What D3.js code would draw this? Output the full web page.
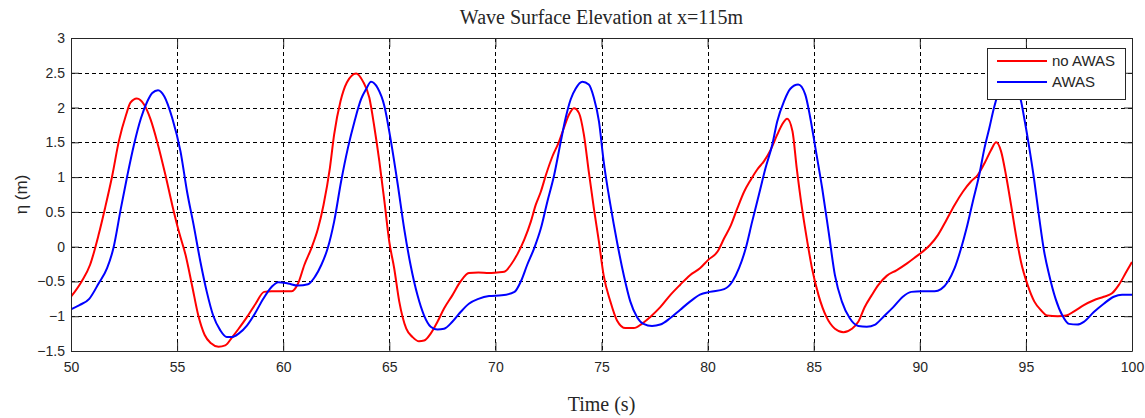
<!DOCTYPE html>
<html>
  <head>
    <meta charset="UTF-8">
    <title>Wave Surface Elevation</title>
    <style>
      body { margin: 0; background: #fff; }
      text { fill: #262626; }
    </style>
  </head>
  <body>
    <script src="https://d3js.org/d3.v7.min.js"></script>
    <svg width="1145" height="418" id="wave"></svg>
    <script>

      // no AWAS (red)
      var tRed = [50.0,50.5,50.9,51.3,51.6,51.95,52.25,52.6,52.8,53.1,53.45,53.75,54.06,54.45,54.77,55.08,55.4,55.7,56.0,56.3,56.6,56.95,57.27,57.6,57.9,58.3,58.7,59.1,59.45,60.0,60.4,60.7,61.0,61.33,61.64,61.9,62.2,62.4,62.7,63.0,63.44,63.75,64.06,64.3,64.53,64.77,65.0,65.23,65.47,65.8,66.1,66.4,66.64,66.95,67.27,67.58,67.97,68.36,68.75,69.2,69.7,70.08,70.42,70.73,71.05,71.36,71.67,71.9,72.14,72.38,72.69,73.0,73.23,73.47,73.7,73.94,74.17,74.4,74.64,74.88,75.1,75.42,75.73,76.13,76.52,76.9,77.3,77.77,78.23,78.7,79.17,79.64,80.03,80.47,80.78,81.1,81.4,81.72,82.03,82.34,82.66,82.97,83.28,83.5,83.75,84.0,84.2,84.45,84.7,84.92,85.23,85.6,86.0,86.4,86.8,87.1,87.4,87.73,88.05,88.44,88.9,89.4,89.84,90.1,90.47,90.86,91.25,91.64,92.03,92.42,92.73,93.05,93.36,93.6,93.83,94.06,94.3,94.53,94.77,95.08,95.4,95.7,96.0,96.5,96.9,97.27,97.73,98.2,98.67,99.06,99.38,99.7,100.0];
      var etaRed = [-0.72,-0.50,-0.26,0.17,0.55,1.03,1.51,1.90,2.07,2.13,2.04,1.83,1.51,1.03,0.60,0.22,-0.12,-0.55,-0.99,-1.27,-1.39,-1.44,-1.42,-1.30,-1.18,-1.01,-0.82,-0.65,-0.64,-0.64,-0.64,-0.53,-0.26,-0.02,0.26,0.60,1.13,1.61,2.09,2.36,2.49,2.38,2.14,1.71,1.23,0.65,0.07,-0.31,-0.79,-1.18,-1.30,-1.36,-1.35,-1.25,-1.08,-0.89,-0.70,-0.50,-0.38,-0.37,-0.38,-0.37,-0.36,-0.26,-0.10,0.10,0.36,0.60,0.79,1.03,1.30,1.51,1.71,1.90,1.99,1.92,1.61,1.08,0.55,0.07,-0.41,-0.79,-1.06,-1.17,-1.17,-1.11,-1.01,-0.87,-0.70,-0.55,-0.41,-0.31,-0.19,-0.07,0.12,0.31,0.55,0.79,0.96,1.11,1.23,1.39,1.61,1.75,1.84,1.66,1.13,0.55,0.07,-0.31,-0.70,-1.01,-1.18,-1.23,-1.18,-1.08,-0.87,-0.70,-0.55,-0.42,-0.34,-0.24,-0.14,-0.08,0.02,0.17,0.38,0.60,0.79,0.94,1.03,1.20,1.39,1.50,1.37,1.03,0.60,0.17,-0.22,-0.55,-0.79,-0.91,-0.99,-1.00,-0.99,-0.93,-0.84,-0.77,-0.72,-0.67,-0.55,-0.38,-0.22];

      // AWAS (blue)
      var tBlue = [50.0,50.4,50.86,51.3,51.7,52.0,52.35,52.66,52.97,53.3,53.6,53.83,54.1,54.4,54.77,55.16,55.47,55.78,56.1,56.4,56.7,57.03,57.34,57.58,57.9,58.3,58.67,59.06,59.45,59.77,60.23,60.7,61.17,61.5,61.8,62.1,62.4,62.73,63.05,63.36,63.67,63.9,64.14,64.45,64.77,65.08,65.4,65.7,66.0,66.33,66.64,66.95,67.27,67.58,67.97,68.36,68.75,69.2,69.7,70.3,70.9,71.2,71.5,71.83,72.14,72.45,72.77,73.08,73.31,73.55,73.78,74.1,74.4,74.64,74.88,75.1,75.42,75.73,76.05,76.36,76.67,76.98,77.38,77.77,78.23,78.7,79.17,79.64,80.1,80.78,81.17,81.48,81.8,82.1,82.42,82.73,83.05,83.28,83.6,83.9,84.27,84.6,84.84,85.08,85.4,85.7,86.0,86.33,86.7,87.1,87.5,87.9,88.28,88.75,89.2,89.6,90.08,90.7,91.0,91.33,91.64,91.95,92.2,92.5,92.8,93.05,93.28,93.5,93.75,94.2,94.73,94.92,95.16,95.4,95.63,95.86,96.1,96.4,96.72,97.03,97.42,97.73,98.2,98.67,99.14,99.53,100.0];
      var etaBlue = [-0.90,-0.84,-0.75,-0.53,-0.31,-0.02,0.55,1.03,1.47,1.85,2.09,2.21,2.25,2.16,1.85,1.37,0.79,0.31,-0.22,-0.65,-0.99,-1.20,-1.30,-1.30,-1.25,-1.13,-0.96,-0.75,-0.58,-0.51,-0.53,-0.56,-0.54,-0.43,-0.26,-0.02,0.36,0.94,1.42,1.80,2.12,2.26,2.37,2.28,2.02,1.51,0.89,0.26,-0.26,-0.70,-0.99,-1.15,-1.19,-1.18,-1.08,-0.94,-0.82,-0.75,-0.71,-0.70,-0.65,-0.50,-0.26,-0.02,0.26,0.65,1.03,1.51,1.85,2.12,2.27,2.37,2.33,2.14,1.80,1.23,0.60,0.07,-0.41,-0.79,-1.01,-1.11,-1.14,-1.12,-1.03,-0.91,-0.79,-0.69,-0.65,-0.61,-0.50,-0.31,-0.02,0.36,0.75,1.13,1.47,1.80,2.09,2.27,2.33,2.19,1.85,1.42,0.84,0.22,-0.41,-0.79,-1.03,-1.14,-1.15,-1.12,-1.01,-0.87,-0.72,-0.65,-0.64,-0.64,-0.61,-0.50,-0.31,-0.02,0.26,0.65,1.03,1.42,1.71,2.00,2.24,2.36,2.14,1.85,1.42,0.94,0.41,-0.07,-0.41,-0.75,-0.99,-1.11,-1.12,-1.08,-0.94,-0.82,-0.72,-0.69,-0.69];

      var xTicks = [50,55,60,65,70,75,80,85,90,95,100];
      var yTicks = [-1.5,-1,-0.5,0,0.5,1,1.5,2,2.5,3];
      var seriesNames = ["no AWAS", "AWAS"];

      var svg = d3.select("#wave"),
          plotL = 71, plotR = 1132, plotT = 38, plotB = 351;

      var x = d3.scaleLinear().domain([50, 100]).range([plotL, plotR]),
          y = d3.scaleLinear().domain([-1.5, 3]).range([plotB, plotT]);

      svg.append("rect").attr("width", 1145).attr("height", 418).attr("fill", "#fff");

      // dashed grid
      var grid = svg.append("g").attr("stroke", "#000").attr("stroke-dasharray", "4,3");
      grid.selectAll(".gx").data(xTicks.slice(1, -1)).enter().append("line")
          .attr("x1", d => Math.round(x(d)) + 0.5).attr("x2", d => Math.round(x(d)) + 0.5)
          .attr("y1", plotT).attr("y2", plotB);
      grid.selectAll(".gy").data(yTicks.slice(1, -1)).enter().append("line")
          .attr("y1", d => Math.round(y(d)) + 0.5).attr("y2", d => Math.round(y(d)) + 0.5)
          .attr("x1", plotL).attr("x2", plotR);

      svg.append("clipPath").attr("id", "plotclip")
         .append("rect").attr("x", plotL).attr("y", plotT).attr("width", plotR - plotL).attr("height", plotB - plotT);

      var line = d3.line()
                   .x(d => x(d[0]))
                   .y(d => y(d[1]))
                   .curve(d3.curveMonotoneX);

      var lines = svg.append("g").attr("clip-path", "url(#plotclip)");
      lines.append("path")
           .datum(d3.zip(tRed, etaRed))
           .attr("fill", "none").attr("stroke", "#ff0000").attr("stroke-width", 2)
           .attr("d", line);
      lines.append("path")
           .datum(d3.zip(tBlue, etaBlue))
           .attr("fill", "none").attr("stroke", "#0000ff").attr("stroke-width", 2)
           .attr("d", line);

      // axes, ticks pointing inward on all four sides
      function styleAxis(g) {
        g.selectAll("path, line").attr("stroke", "#262626");
        g.selectAll("text").attr("fill", "#262626")
         .style("font-family", "Arial, 'Liberation Sans', sans-serif").style("font-size", "14px");
      }

      svg.append("g").attr("transform", "translate(0," + plotB + ")")
         .call(d3.axisBottom(x).tickValues(xTicks).tickSizeInner(-9).tickSizeOuter(0).tickPadding(11))
         .call(styleAxis);
      svg.append("g").attr("transform", "translate(0," + plotT + ")")
         .call(d3.axisTop(x).tickValues(xTicks).tickSizeInner(-9).tickSizeOuter(0).tickFormat(""))
         .call(styleAxis);
      svg.append("g").attr("transform", "translate(" + plotL + ",0)")
         .call(d3.axisLeft(y).tickValues(yTicks).tickSizeInner(-8).tickSizeOuter(0).tickPadding(6).tickFormat(d3.format("")))
         .call(styleAxis);
      svg.append("g").attr("transform", "translate(" + plotR + ",0)")
         .call(d3.axisRight(y).tickValues(yTicks).tickSizeInner(-8).tickSizeOuter(0).tickFormat(""))
         .call(styleAxis);

      // titles
      svg.append("text")
         .attr("x", (plotL + plotR) / 2).attr("y", 24)
         .attr("text-anchor", "middle")
         .style("font-family", "'Times New Roman', 'Liberation Serif', serif").style("font-size", "20px")
         .text("Wave Surface Elevation at x=115m");
      svg.append("text")
         .attr("x", (plotL + plotR) / 2).attr("y", 411)
         .attr("text-anchor", "middle")
         .style("font-family", "'Times New Roman', 'Liberation Serif', serif").style("font-size", "20px")
         .text("Time (s)");
      svg.append("text")
         .attr("transform", "translate(27," + (plotT + plotB) / 2 + ") rotate(-90)")
         .attr("text-anchor", "middle")
         .style("font-family", "Arial, 'Liberation Sans', sans-serif").style("font-size", "17px")
         .text("η (m)");

      // legend
      var legend = svg.append("g").attr("transform", "translate(987,48)");
      legend.append("rect").attr("x", 0.5).attr("y", 0.5).attr("width", 138).attr("height", 51)
            .attr("fill", "#fff").attr("stroke", "#262626");
      var colors = ["#ff0000", "#0000ff"];
      seriesNames.forEach(function(name, i) {
        var ly = 13 + i * 21;
        legend.append("line").attr("x1", 10).attr("x2", 60).attr("y1", ly).attr("y2", ly)
              .attr("stroke", colors[i]).attr("stroke-width", 2);
        legend.append("text").attr("x", 65).attr("y", ly + 5)
              .style("font-family", "Arial, 'Liberation Sans', sans-serif").style("font-size", "15px")
              .text(name);
      });
    </script>
  </body>
</html>
